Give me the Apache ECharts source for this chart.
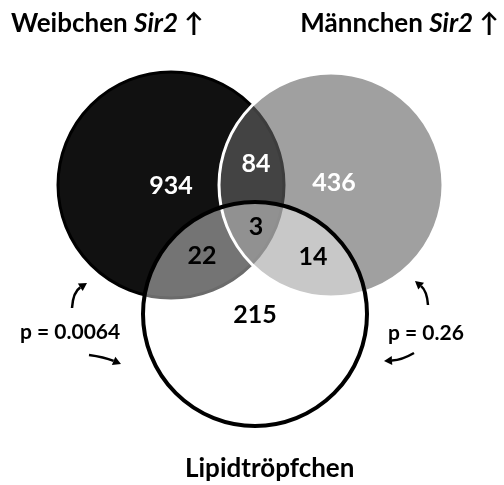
<!DOCTYPE html>
<html>
<head>
<meta charset="utf-8">
<script src="https://cdn.jsdelivr.net/npm/echarts@6/dist/echarts.min.js"></script>
<style>
html,body{margin:0;padding:0;background:#fff;}
#main{width:504px;height:485px;}
</style>
</head>
<body>
<div id="main"></div>
<script>
// data
var setNames = ['Weibchen', 'Männchen', 'Lipidtröpfchen'];
var geneName = 'Sir2';
var regionNames = ['W', 'W∩M', 'M', 'W∩L', 'W∩M∩L', 'M∩L', 'L'];
var regionCounts = [934, 84, 436, 22, 3, 14, 215];
var pValues = ['p = 0.0064', 'p = 0.26'];

// layout (pixel space of the 504x485 canvas)
var circleCenters = [[171, 185], [331, 185], [255, 314]];
var circleRadius = [113, 112, 112];
var circleStyles = [
	{fill: '#111111', stroke: '#000000', lineWidth: 3},
	{fill: 'rgba(100,100,100,0.613)', stroke: '#ffffff', lineWidth: 3},
	{fill: 'rgba(255,255,255,0.42)', stroke: '#000000', lineWidth: 4}
];
var labelPos = [[171, 186], [256, 164], [334, 183], [202, 256], [256, 227], [313, 257], [255, 315]];
var labelColor = ['#fff', '#fff', '#fff', '#000', '#000', '#000', '#000'];

var font = 'Lato, "DejaVu Sans", sans-serif';

var myChart = echarts.init(document.getElementById('main'));

var circleData = [];
for (var i = 0; i < setNames.length; i++) {
	circleData.push({name: setNames[i], value: [circleCenters[i][0], circleCenters[i][1], circleRadius[i]]});
}
var labelData = [];
for (var j = 0; j < regionCounts.length; j++) {
	labelData.push({name: regionNames[j], value: [labelPos[j][0], labelPos[j][1], regionCounts[j]]});
}

function arrow(p0, cp, p1) {
	var dx = p1[0] - cp[0], dy = p1[1] - cp[1];
	var len = Math.sqrt(dx * dx + dy * dy);
	var ux = dx / len, uy = dy / len;
	var hl = 8, hw = 4.5;
	var bx = p1[0] - ux * hl, by = p1[1] - uy * hl;
	return [{
		type: 'bezierCurve',
		shape: {x1: p0[0], y1: p0[1], cpx1: cp[0], cpy1: cp[1], x2: bx, y2: by},
		style: {stroke: '#000', lineWidth: 2.5, fill: null}
	}, {
		type: 'polygon',
		shape: {points: [p1, [bx - uy * hw, by + ux * hw], [bx + uy * hw, by - ux * hw]]},
		style: {fill: '#000'}
	}];
}

var graphics = []
	.concat(arrow([72, 308], [73, 292], [87, 283]))
	.concat(arrow([89, 355], [104, 357], [121, 364]))
	.concat(arrow([428, 305], [427, 291], [415, 281]))
	.concat(arrow([414, 353], [402, 360], [384, 361]));

var rich = {
	b: {fontFamily: font, fontWeight: 'bold', fontSize: 26, color: '#000'},
	i: {fontFamily: font, fontWeight: 'bold', fontStyle: 'italic', fontSize: 26, color: '#000'}
};

var option = {
	animation: false,
	backgroundColor: '#fff',
	title: [{
		text: '{b|' + setNames[0] + ' }{i|' + geneName + '}{b| ↑}',
		left: 6, top: 6,
		textStyle: {rich: rich}
	}, {
		text: '{b|' + setNames[1] + ' }{i|' + geneName + '}{b| ↑}',
		right: 0, top: 6,
		textStyle: {rich: rich}
	}, {
		text: setNames[2],
		left: 180, top: 451,
		textStyle: {fontFamily: font, fontWeight: 'bold', fontSize: 26, color: '#000'}
	}, {
		text: pValues[0],
		left: 15, top: 317,
		textStyle: {fontFamily: font, fontWeight: 'bold', fontSize: 21, color: '#000'}
	}, {
		text: pValues[1],
		left: 383, top: 318,
		textStyle: {fontFamily: font, fontWeight: 'bold', fontSize: 21, color: '#000'}
	}],
	grid: {left: 0, right: 0, top: 0, bottom: 0},
	xAxis: {type: 'value', min: 0, max: 504, show: false},
	yAxis: {type: 'value', min: 0, max: 485, inverse: true, show: false},
	graphic: graphics,
	series: [{
		type: 'custom',
		data: circleData,
		renderItem: function (params, api) {
			var c = api.coord([api.value(0), api.value(1)]);
			var r = api.size([api.value(2), 0])[0];
			var st = circleStyles[params.dataIndex];
			return {
				type: 'circle',
				shape: {cx: c[0], cy: c[1], r: r},
				style: {fill: st.fill, stroke: st.stroke, lineWidth: st.lineWidth}
			};
		}
	}, {
		type: 'custom',
		data: labelData,
		z: 5,
		renderItem: function (params, api) {
			var c = api.coord([api.value(0), api.value(1)]);
			return {
				type: 'text',
				x: c[0], y: c[1],
				style: {
					text: String(api.value(2)),
					fill: labelColor[params.dataIndex],
					font: 'bold 25px ' + font,
					align: 'center',
					verticalAlign: 'middle'
				}
			};
		}
	}]
};

myChart.setOption(option);
</script>
</body>
</html>
